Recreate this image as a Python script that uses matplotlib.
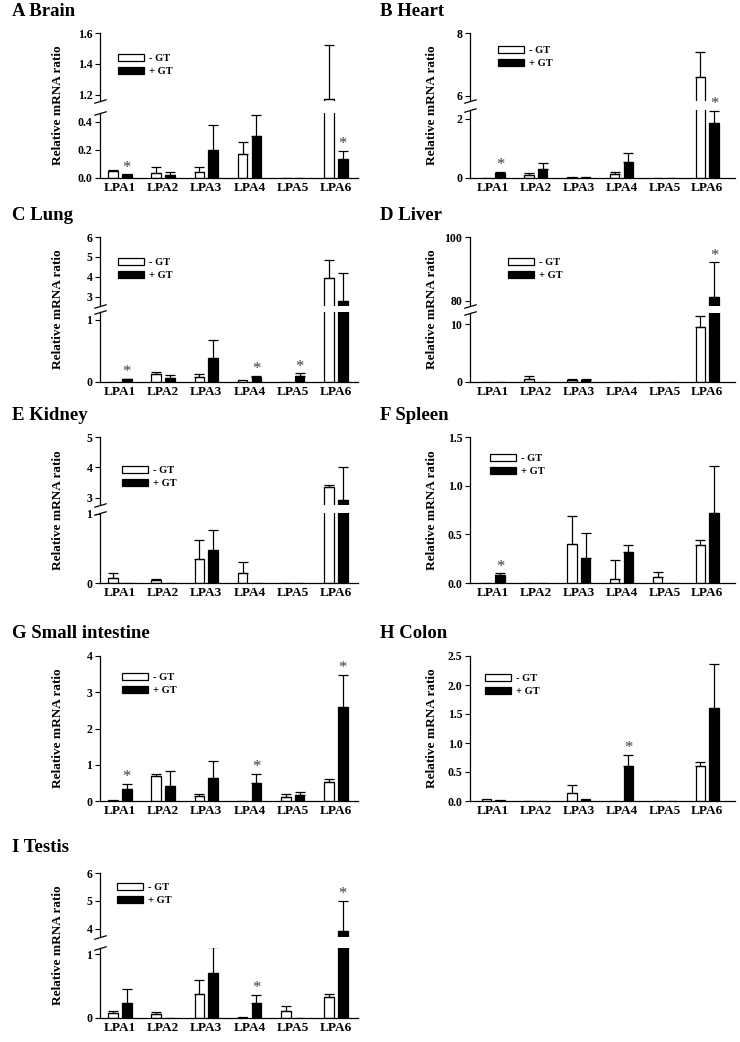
import matplotlib
matplotlib.use("Agg")
import matplotlib.pyplot as plt
import numpy as np

plt.rcParams["font.family"] = ["Liberation Serif", "DejaVu Serif"]
plt.rcParams["font.weight"] = "bold"
plt.rcParams["axes.linewidth"] = 0.9

W, H = 740, 1042

genes = ["LPA1", "LPA2", "LPA3", "LPA4", "LPA5", "LPA6"]
series_labels = ["- GT", "+ GT"]

# mean and upper error (SEM) per gene, -GT (white) and +GT (black)
brain_minus = [0.05, 0.038, 0.04, 0.17, 0.003, 1.17]
brain_minus_err = [0.006, 0.04, 0.035, 0.09, 0.0, 0.35]
brain_plus = [0.025, 0.024, 0.20, 0.30, 0.0, 0.135]
brain_plus_err = [0.0, 0.019, 0.18, 0.15, 0.0, 0.06]
brain_stars = [0, 5]

heart_minus = [0.0, 0.10, 0.03, 0.12, 0.0, 6.6]
heart_minus_err = [0.0, 0.08, 0.0, 0.08, 0.0, 0.81]
heart_plus = [0.18, 0.29, 0.04, 0.53, 0.0, 1.87]
heart_plus_err = [0.03, 0.22, 0.0, 0.31, 0.0, 0.41]
heart_stars = [0, 5]

lung_minus = [0.005, 0.135, 0.08, 0.03, 0.005, 3.96]
lung_minus_err = [0.0, 0.025, 0.055, 0.0, 0.0, 0.87]
lung_plus = [0.045, 0.065, 0.385, 0.08, 0.10, 2.78]
lung_plus_err = [0.005, 0.04, 0.285, 0.02, 0.04, 1.40]
lung_stars = [0, 3, 4]

liver_minus = [0.0, 0.6, 0.4, 0.0, 0.0, 9.6]
liver_minus_err = [0.0, 0.4, 0.1, 0.0, 0.0, 1.8]
liver_plus = [0.0, 0.0, 0.4, 0.0, 0.0, 81.0]
liver_plus_err = [0.0, 0.0, 0.2, 0.0, 0.0, 11.1]
liver_stars = [5]

kidney_minus = [0.07, 0.04, 0.34, 0.15, 0.0, 3.35]
kidney_minus_err = [0.07, 0.02, 0.28, 0.15, 0.0, 0.07]
kidney_plus = [0.0, 0.0, 0.47, 0.0, 0.0, 2.93]
kidney_plus_err = [0.0, 0.0, 0.30, 0.0, 0.0, 1.09]
kidney_stars = []

spleen_minus = [0.005, 0.0, 0.40, 0.04, 0.06, 0.39]
spleen_minus_err = [0.0, 0.0, 0.29, 0.20, 0.05, 0.05]
spleen_plus = [0.08, 0.0, 0.26, 0.32, 0.0, 0.72]
spleen_plus_err = [0.02, 0.0, 0.25, 0.07, 0.0, 0.48]
spleen_stars = [0]

si_minus = [0.03, 0.68, 0.13, 0.0, 0.12, 0.53]
si_minus_err = [0.0, 0.07, 0.07, 0.0, 0.08, 0.07]
si_plus = [0.32, 0.42, 0.63, 0.50, 0.17, 2.60]
si_plus_err = [0.16, 0.42, 0.47, 0.25, 0.09, 0.88]
si_stars = [0, 3, 5]

colon_minus = [0.03, 0.0, 0.14, 0.0, 0.0, 0.61]
colon_minus_err = [0.0, 0.0, 0.13, 0.0, 0.0, 0.07]
colon_plus = [0.02, 0.0, 0.03, 0.60, 0.0, 1.60]
colon_plus_err = [0.0, 0.0, 0.0, 0.20, 0.0, 0.76]
colon_stars = [3]

testis_minus = [0.08, 0.06, 0.37, 0.02, 0.11, 0.33]
testis_minus_err = [0.03, 0.04, 0.23, 0.0, 0.08, 0.05]
testis_plus = [0.24, 0.0, 0.70, 0.24, 0.0, 3.93]
testis_plus_err = [0.22, 0.0, 0.42, 0.12, 0.0, 1.07]
testis_stars = [3, 5]

# layout (pixels)
cols = {
    "L": dict(x0=100, x1=358, xlim=(-0.46, 5.51), title_x=12, ylab_x=58),
    "R": dict(x0=470, x1=735, xlim=(-0.54, 5.65), title_x=380, ylab_x=432),
}

panels = [
    dict(title="A Brain", data=(brain_minus, brain_minus_err, brain_plus, brain_plus_err, brain_stars),
         col="L", title_y=12, leg=(118, 54),
         upper=(33, 101, (1.16, 1.6), [1.2, 1.4, 1.6], ["1.2", "1.4", "1.6"]),
         lower=(113, 178, (0, 0.464), [0, 0.2, 0.4], ["0.0", "0.2", "0.4"])),
    dict(title="B Heart", data=(heart_minus, heart_minus_err, heart_plus, heart_plus_err, heart_stars),
         col="R", title_y=12, leg=(498, 46),
         upper=(33, 101, (5.84, 8), [6, 8], ["6", "8"]),
         lower=(110, 178, (0, 2.3), [0, 2], ["0", "2"])),
    dict(title="C Lung", data=(lung_minus, lung_minus_err, lung_plus, lung_plus_err, lung_stars),
         col="L", title_y=215, leg=(118, 258),
         upper=(237, 306, (2.55, 6), [3, 4, 5, 6], ["3", "4", "5", "6"]),
         lower=(312, 382, (0, 1.12), [0, 1], ["0", "1"])),
    dict(title="D Liver", data=(liver_minus, liver_minus_err, liver_plus, liver_plus_err, liver_stars),
         col="R", title_y=215, leg=(508, 258),
         upper=(237, 306, (78.3, 100), [80, 100], ["80", "100"]),
         lower=(313, 382, (0, 11.95), [0, 10], ["0", "10"])),
    dict(title="E Kidney", data=(kidney_minus, kidney_minus_err, kidney_plus, kidney_plus_err, kidney_stars),
         col="L", title_y=415, leg=(122, 466),
         upper=(437, 505, (2.76, 5), [3, 4, 5], ["3", "4", "5"]),
         lower=(513, 583, (0, 1.01), [0, 1], ["0", "1"])),
    dict(title="F Spleen", data=(spleen_minus, spleen_minus_err, spleen_plus, spleen_plus_err, spleen_stars),
         col="R", title_y=415, leg=(490, 454),
         single=(437, 583, (0, 1.5), [0, 0.5, 1.0, 1.5], ["0.0", "0.5", "1.0", "1.5"])),
    dict(title="G Small intestine", data=(si_minus, si_minus_err, si_plus, si_plus_err, si_stars),
         col="L", title_y=634, leg=(122, 673),
         single=(656, 801, (0, 4), [0, 1, 2, 3, 4], ["0", "1", "2", "3", "4"])),
    dict(title="H Colon", data=(colon_minus, colon_minus_err, colon_plus, colon_plus_err, colon_stars),
         col="R", title_y=634, leg=(485, 674),
         single=(656, 801, (0, 2.5), [0, 0.5, 1.0, 1.5, 2.0, 2.5],
                 ["0.0", "0.5", "1.0", "1.5", "2.0", "2.5"])),
    dict(title="I Testis", data=(testis_minus, testis_minus_err, testis_plus, testis_plus_err, testis_stars),
         col="L", title_y=847, leg=(117, 883),
         upper=(873, 937, (3.7, 6), [4, 5, 6], ["4", "5", "6"]),
         lower=(948, 1018, (0, 1.1), [0, 1], ["0", "1"])),
]

bar_w = 0.22
off = 0.16
star_color = "#3c3c4c"

fig = plt.figure(figsize=(W / 100, H / 100), dpi=100)


def px_axes(left, top, right, bottom):
    return fig.add_axes([left / W, 1 - bottom / H, (right - left) / W, (bottom - top) / H])


def draw_bars(ax, minus, minus_err, plus, plus_err):
    x = np.arange(len(genes))
    b1 = ax.bar(x - off, minus, bar_w, facecolor="white", edgecolor="black", lw=0.9, zorder=2)
    b2 = ax.bar(x + off, plus, bar_w, facecolor="black", edgecolor="black", lw=0.9, zorder=2)
    for xs, v, e in ((x - off, minus, minus_err), (x + off, plus, plus_err)):
        v = np.asarray(v, float)
        e = np.asarray(e, float)
        m = e > 0
        ax.errorbar(xs[m], v[m], yerr=[np.zeros(m.sum()), e[m]], fmt="none", ecolor="black",
                    elinewidth=0.9, capsize=3.3, capthick=0.9, zorder=3)
    return b1, b2


def style(ax, ylim, ticks, labels, xlim, show_x):
    ax.set_xlim(*xlim)
    ax.set_ylim(*ylim)
    ax.set_yticks(ticks)
    ax.set_yticklabels(labels)
    ax.spines["top"].set_visible(False)
    ax.spines["right"].set_visible(False)
    ax.tick_params(axis="y", length=3.5, width=0.8, pad=2, labelsize=8.5)
    if show_x:
        ax.set_xticks(np.arange(len(genes)))
        ax.set_xticklabels(genes, fontsize=9.5)
        ax.tick_params(axis="x", length=0, pad=3)
    else:
        ax.spines["bottom"].set_visible(False)
        ax.set_xticks([])


handles = None
for p in panels:
    c = cols[p["col"]]
    minus, minus_err, plus, plus_err, stars = p["data"]
    if "single" in p:
        top, bot, ylim, ticks, labels = p["single"]
        ax = px_axes(c["x0"], top, c["x1"], bot)
        handles = draw_bars(ax, minus, minus_err, plus, plus_err)
        style(ax, ylim, ticks, labels, c["xlim"], True)
        star_axes = [ax]
        y_top, y_bot = top, bot
    else:
        ut, ub, uylim, uticks, ulabels = p["upper"]
        lt, lb, lylim, lticks, llabels = p["lower"]
        ax_u = px_axes(c["x0"], ut, c["x1"], ub)
        ax_l = px_axes(c["x0"], lt, c["x1"], lb)
        draw_bars(ax_u, minus, minus_err, plus, plus_err)
        handles = draw_bars(ax_l, minus, minus_err, plus, plus_err)
        style(ax_u, uylim, uticks, ulabels, c["xlim"], False)
        style(ax_l, lylim, lticks, llabels, c["xlim"], True)
        kw = dict(marker=[(-1, -0.3), (1, 0.3)], markersize=9, linestyle="none",
                  color="k", mec="k", mew=0.9, clip_on=False)
        ax_u.plot([0], [0], transform=ax_u.transAxes, **kw)
        ax_l.plot([0], [1], transform=ax_l.transAxes, **kw)
        star_axes = [ax_l, ax_u]
        y_top, y_bot = ut, lb

    # significance stars above +GT bars
    for i in stars:
        cap = plus[i] + plus_err[i]
        target = star_axes[0]
        if len(star_axes) > 1 and cap > star_axes[0].get_ylim()[1] + 1e-9:
            target = star_axes[1]
        target.annotate("*", xy=(i + off, cap), xytext=(0, -1), textcoords="offset points",
                        ha="center", va="bottom", fontsize=12, color=star_color,
                        fontweight="normal", annotation_clip=False)

    fig.text(c["title_x"] / W, 1 - p["title_y"] / H, p["title"], ha="left", va="center",
             fontsize=13.5, fontweight="bold")
    fig.text(c["ylab_x"] / W, 1 - (y_top + y_bot) / 2 / H, "Relative mRNA ratio", rotation=90,
             ha="center", va="center", fontsize=9.5, fontweight="bold")
    lx, ly = p["leg"]
    fig.legend(handles, series_labels, loc="upper left", bbox_to_anchor=(lx / W, 1 - ly / H),
               frameon=False, fontsize=7.5, handlelength=2.5, handleheight=0.65,
               labelspacing=0.35, handletextpad=0.5, borderpad=0, borderaxespad=0)

fig.savefig("out.png", dpi=100, facecolor="white")
